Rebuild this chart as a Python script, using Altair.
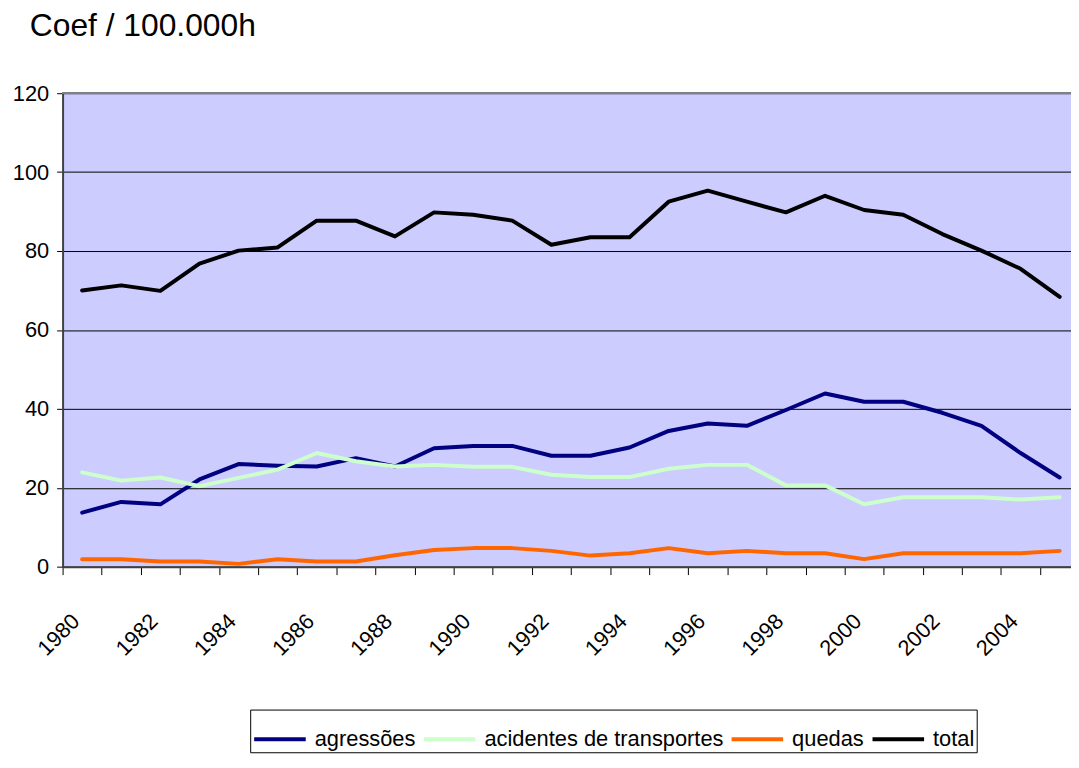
import altair as alt
import pandas as pd

years = list(range(1980, 2006))
agressoes = [13.7, 16.4, 15.8, 22.1, 26.0, 25.6, 25.4, 27.5, 25.4, 30.0, 30.6, 30.6, 28.1,
             28.1, 30.2, 34.4, 36.3, 35.7, 39.7, 43.9, 41.8, 41.8, 39.0, 35.7, 28.8, 22.6]
acidentes = [23.9, 21.8, 22.6, 20.4, 22.5, 24.6, 28.8, 26.7, 25.4, 25.8, 25.3, 25.3, 23.3,
             22.7, 22.7, 24.8, 25.8, 25.8, 20.6, 20.6, 15.8, 17.6, 17.6, 17.6, 17.0, 17.6]
quedas = [1.9, 1.9, 1.3, 1.3, 0.7, 1.9, 1.3, 1.3, 2.9, 4.2, 4.7, 4.7, 4.0,
          2.8, 3.4, 4.7, 3.4, 4.0, 3.4, 3.4, 1.9, 3.4, 3.4, 3.4, 3.4, 4.0]
total = [70.0, 71.3, 69.9, 76.8, 80.1, 80.9, 87.7, 87.7, 83.7, 89.8, 89.2, 87.7, 81.6,
         83.5, 83.5, 92.5, 95.3, 92.5, 89.8, 94.0, 90.4, 89.2, 84.3, 80.1, 75.5, 68.4]

series_names = ["agressões", "acidentes de transportes", "quedas", "total"]
series_colors = ["#000080", "#CCFFCC", "#FF6600", "#000000"]
y_ticks = [0, 20, 40, 60, 80, 100, 120]
title_text = "Coef / 100.000h"

rows = []
for name, vals in zip(series_names, [agressoes, acidentes, quedas, total]):
    for yr, v in zip(years, vals):
        rows.append({"ano": yr, "valor": v, "serie": name,
                     "ordem": series_names.index(name)})
df = pd.DataFrame(rows)

FONT = "Liberation Sans, Arial, sans-serif"

x_scale = alt.Scale(domain=[1979.5, 2005.29], nice=False, zero=False)
y_scale = alt.Scale(domain=[0, 120], nice=False)

lines = alt.Chart(df).mark_line(strokeWidth=4, strokeCap="round", strokeJoin="round").encode(
    x=alt.X("ano:Q", scale=x_scale, title=None,
            axis=alt.Axis(values=years, format="d", tickOffset=-19.7,
                          labelExpr="datum.value % 2 == 0 ? datum.label : ''",
                          labelAngle=-45, labelAlign="right", labelBaseline="middle",
                          labelPadding=43, labelOffset=13, tickSize=8,
                          tickColor="#000000", domainColor="#404040", domainWidth=2,
                          labelFont=FONT, labelFontSize=22, labelColor="#000000",
                          grid=False, labelOverlap=False, labelBound=False, labelFlush=False)),
    y=alt.Y("valor:Q", scale=y_scale, title=None,
            axis=alt.Axis(values=y_ticks, tickSize=6, tickColor="#000000",
                          domainColor="#404040", domainWidth=2, labelPadding=8,
                          labelFont=FONT, labelFontSize=22, labelColor="#000000",
                          grid=True, gridColor="#000000", gridWidth=1)),
    color=alt.Color("serie:N",
                    scale=alt.Scale(domain=series_names, range=series_colors),
                    legend=alt.Legend(orient="none", legendX=189, legendY=621,
                                      direction="horizontal", title=None,
                                      symbolType="stroke", symbolSize=2700,
                                      symbolStrokeWidth=4, labelOffset=7,
                                      columnPadding=0, padding=2,
                                      labelFont=FONT, labelFontSize=22,
                                      labelColor="#000000", labelLimit=400,
                                      strokeColor="#000000", fillColor="#FFFFFF")),
    order=alt.Order("ordem:Q"),
)

top_border = alt.Chart(df).mark_rule(color="#808080", strokeWidth=1.5).encode(
    y=alt.datum(y_ticks[-1], scale=y_scale),
)

chart = alt.layer(lines, top_border).properties(
    width=1016, height=477,
    padding={"left": 55, "top": 83, "right": 0, "bottom": 199},
    autosize=alt.AutoSizeParams(type="none"),
    title=alt.TitleParams(title_text, anchor="start", frame="group", fontSize=32,
                          font=FONT, fontWeight="normal", color="#000000",
                          dx=-33, offset=8, baseline="bottom"),
).configure_view(fill="#CCCCFF", stroke="transparent")

chart.save("out.html", embed_options={"renderer": "svg", "actions": False})
